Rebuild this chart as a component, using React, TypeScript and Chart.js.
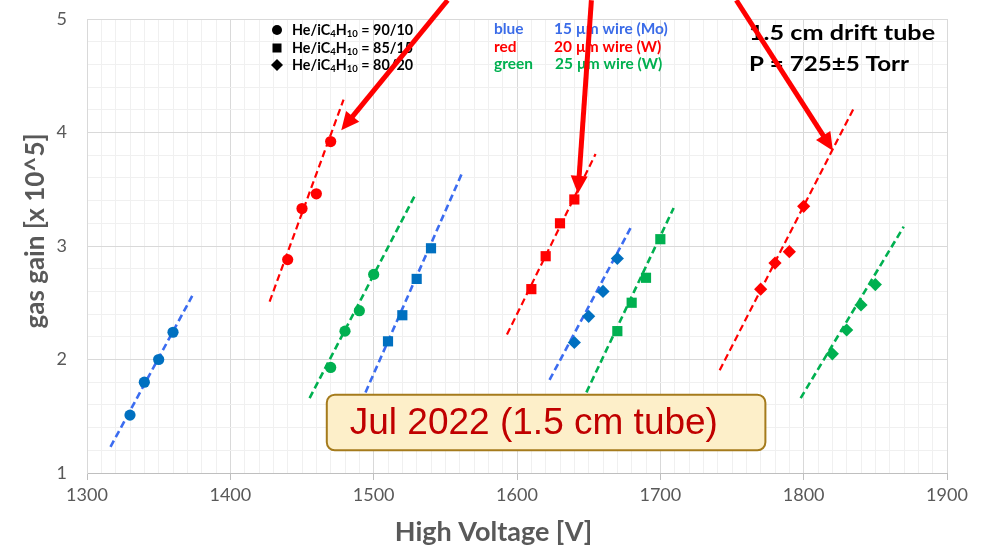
import React, { useEffect, useRef } from 'react';
import { Chart, registerables } from 'chart.js';

Chart.register(...registerables);

// ---------- data ----------
// He/iC4H10 = 90/10 (circles)
const hvCircleBlue = [1330, 1340, 1350, 1360];
const gainCircleBlue = [1.51, 1.8, 2.0, 2.24];
const hvCircleRed = [1440, 1450, 1460, 1470];
const gainCircleRed = [2.88, 3.33, 3.46, 3.92];
const hvCircleGreen = [1470, 1480, 1490, 1500];
const gainCircleGreen = [1.93, 2.25, 2.43, 2.75];
// He/iC4H10 = 85/15 (squares)
const hvSquareBlue = [1510, 1520, 1530, 1540];
const gainSquareBlue = [2.16, 2.39, 2.71, 2.98];
const hvSquareRed = [1610, 1620, 1630, 1640];
const gainSquareRed = [2.62, 2.91, 3.2, 3.41];
const hvSquareGreen = [1670, 1680, 1690, 1700];
const gainSquareGreen = [2.25, 2.5, 2.72, 3.06];
// He/iC4H10 = 80/20 (diamonds)
const hvDiamondBlue = [1640, 1650, 1660, 1670];
const gainDiamondBlue = [2.15, 2.38, 2.6, 2.89];
const hvDiamondRed = [1770, 1780, 1790, 1800];
const gainDiamondRed = [2.62, 2.85, 2.95, 3.35];
const hvDiamondGreen = [1820, 1830, 1840, 1850];
const gainDiamondGreen = [2.05, 2.26, 2.48, 2.66];

// linear trend lines: [hvStart, gainStart, hvEnd, gainEnd]
const trendCircleBlue = [1316.4, 1.23, 1373.4, 2.56];
const trendCircleRed = [1427.4, 2.51, 1479.0, 4.29];
const trendCircleGreen = [1455.3, 1.66, 1529.2, 3.455];
const trendSquareBlue = [1494.3, 1.71, 1561.6, 3.64];
const trendSquareRed = [1593.0, 2.22, 1654.8, 3.81];
const trendSquareGreen = [1648.4, 1.71, 1709.3, 3.335];
const trendDiamondBlue = [1622.7, 1.82, 1679.3, 3.16];
const trendDiamondRed = [1741.4, 1.905, 1835.6, 4.23];
const trendDiamondGreen = [1797.9, 1.66, 1869.8, 3.17];

// axes
const xMin = 1300;
const xMax = 1900;
const xMajorTicks = [1300, 1400, 1500, 1600, 1700, 1800, 1900];
const yMin = 1;
const yMax = 5;
const yMajorTicks = [1, 2, 3, 4, 5];

// annotations (data coordinates)
const arrowStartHv = [1551.6, 1651.9, 1753.0];
const arrowStartGain = [5.165, 5.165, 5.165];
const arrowTipHv = [1477.4, 1642.5, 1820.4];
const arrowTipGain = [4.02, 3.46, 3.84];
const noteBoxHv = [1467.3, 1773.3];
const noteBoxGain = [1.69, 1.2];

const mixLabels = ['90/10', '85/15', '80/20'];
const colorWords = ['blue', 'red', 'green'];
const wireLabels = ['15 \u00b5m wire (Mo)', '20 \u00b5m wire (W)', '25 \u00b5m wire (W)'];
const infoLines = ['1.5 cm drift tube', 'P = 725\u00b15 Torr'];
const noteText = 'Jul 2022 (1.5 cm tube)';

// ---------- styles ----------
const FONT = "Lato, 'Liberation Sans', sans-serif";
const MARK = { blue: '#0070c0', red: '#ff0000', green: '#00b050' };
const LINE = { blue: '#3b6cf0', red: '#ff0000', green: '#00b050' };
const WORD = { blue: '#3b6ce8', red: '#ff0000', green: '#00b050' };

const isMajor = (v: number, list: number[]) => list.some((t) => Math.abs(t - v) < 1e-6);

function pts(xs: number[], ys: number[]) {
  return xs.map((x, i) => ({ x, y: ys[i] }));
}

function pointSet(xs: number[], ys: number[], color: string, style: string) {
  const radius = style === 'circle' ? 5.6 : style === 'rect' ? 7.2 : 6.6;
  return {
    data: pts(xs, ys),
    showLine: false,
    pointStyle: style,
    pointRadius: radius,
    pointHoverRadius: radius,
    backgroundColor: color,
    borderColor: color,
    borderWidth: 0,
    order: 1,
  };
}

function trendSet(t: number[], color: string, width: number) {
  return {
    data: [
      { x: t[0], y: t[1] },
      { x: t[2], y: t[3] },
    ],
    showLine: true,
    borderColor: color,
    borderWidth: width,
    borderDash: [7, 4],
    pointRadius: 0,
    pointHoverRadius: 0,
    fill: false,
    order: 2,
  };
}

function fillStretched(ctx: CanvasRenderingContext2D, text: string, x: number, y: number, sx: number) {
  ctx.save();
  ctx.translate(x, y);
  ctx.scale(sx, 1);
  ctx.fillText(text, 0, 0);
  ctx.restore();
}

function drawChem(ctx: CanvasRenderingContext2D, x: number, y: number, ratio: string, targetW: number) {
  const parts: [string, boolean][] = [
    ['He/iC', false],
    ['4', true],
    ['H', false],
    ['10', true],
    [' = ' + ratio, false],
  ];
  const fMain = `bold 15px ${FONT}`;
  const fSub = `bold 10px ${FONT}`;
  let total = 0;
  for (const [txt, sub] of parts) {
    ctx.font = sub ? fSub : fMain;
    total += ctx.measureText(txt).width;
  }
  const sx = targetW / total;
  ctx.save();
  ctx.translate(x, y);
  ctx.scale(sx, 1);
  let cx = 0;
  for (const [txt, sub] of parts) {
    ctx.font = sub ? fSub : fMain;
    ctx.fillText(txt, cx, sub ? 4 : 0);
    cx += ctx.measureText(txt).width;
  }
  ctx.restore();
}

const annotationPlugin = {
  id: 'annotations',
  afterDraw(chart: any) {
    const { ctx } = chart;
    const xs = chart.scales.x;
    const ys = chart.scales.y;
    ctx.save();
    ctx.textBaseline = 'middle';
    ctx.textAlign = 'left';

    // gas mixture legend
    const rowY = [30, 48, 65];
    const symX = 277;
    ctx.fillStyle = '#000000';
    ctx.beginPath();
    ctx.arc(symX, rowY[0], 5, 0, Math.PI * 2);
    ctx.fill();
    ctx.fillRect(symX - 4.5, rowY[1] - 4.5, 9, 9);
    ctx.beginPath();
    ctx.moveTo(symX, rowY[2] - 6);
    ctx.lineTo(symX + 6, rowY[2]);
    ctx.lineTo(symX, rowY[2] + 6);
    ctx.lineTo(symX - 6, rowY[2]);
    ctx.closePath();
    ctx.fill();
    mixLabels.forEach((m, i) => drawChem(ctx, 292, rowY[i], m, 121));

    // wire legend
    ctx.font = `bold 15px ${FONT}`;
    const wordColors = [WORD.blue, WORD.red, WORD.green];
    colorWords.forEach((w, i) => {
      ctx.fillStyle = wordColors[i];
      fillStretched(ctx, w, 494, rowY[i] - 1, 1.03);
      fillStretched(ctx, wireLabels[i], i === 2 ? 555 : 554, rowY[i] - 1, 1.03);
    });

    // info text
    ctx.fillStyle = '#000000';
    ctx.font = `bold 21px ${FONT}`;
    fillStretched(ctx, infoLines[0], 749, 33, 1.2);
    fillStretched(ctx, infoLines[1], 749, 64, 1.15);

    // note box
    const bx0 = xs.getPixelForValue(noteBoxHv[0]);
    const bx1 = xs.getPixelForValue(noteBoxHv[1]);
    const by0 = ys.getPixelForValue(noteBoxGain[0]);
    const by1 = ys.getPixelForValue(noteBoxGain[1]);
    const r = 8;
    ctx.beginPath();
    ctx.moveTo(bx0 + r, by0);
    ctx.arcTo(bx1, by0, bx1, by1, r);
    ctx.arcTo(bx1, by1, bx0, by1, r);
    ctx.arcTo(bx0, by1, bx0, by0, r);
    ctx.arcTo(bx0, by0, bx1, by0, r);
    ctx.closePath();
    ctx.fillStyle = '#fdefc9';
    ctx.fill();
    ctx.lineWidth = 2;
    ctx.strokeStyle = '#a57b1c';
    ctx.stroke();
    ctx.fillStyle = '#c00000';
    ctx.font = `37px 'Liberation Sans', Arial, sans-serif`;
    ctx.fillText(noteText, bx0 + 23, (by0 + by1) / 2 + 1);

    // arrows
    ctx.strokeStyle = '#ff0000';
    ctx.fillStyle = '#ff0000';
    ctx.lineWidth = 5;
    ctx.lineCap = 'butt';
    for (let i = 0; i < arrowTipHv.length; i++) {
      const sx = xs.getPixelForValue(arrowStartHv[i]);
      const sy = ys.getPixelForValue(arrowStartGain[i]);
      const tx = xs.getPixelForValue(arrowTipHv[i]);
      const ty = ys.getPixelForValue(arrowTipGain[i]);
      const ang = Math.atan2(ty - sy, tx - sx);
      const headLen = 18;
      const headHalf = 8.5;
      const hx = tx - Math.cos(ang) * headLen;
      const hy = ty - Math.sin(ang) * headLen;
      ctx.beginPath();
      ctx.moveTo(sx, sy);
      ctx.lineTo(hx + Math.cos(ang) * 2, hy + Math.sin(ang) * 2);
      ctx.stroke();
      ctx.beginPath();
      ctx.moveTo(tx, ty);
      ctx.lineTo(hx + Math.cos(ang + Math.PI / 2) * headHalf, hy + Math.sin(ang + Math.PI / 2) * headHalf);
      ctx.lineTo(hx - Math.cos(ang + Math.PI / 2) * headHalf, hy - Math.sin(ang + Math.PI / 2) * headHalf);
      ctx.closePath();
      ctx.fill();
    }
    ctx.restore();
  },
};

export default function App() {
  const ref = useRef<HTMLCanvasElement | null>(null);

  useEffect(() => {
    if (!ref.current) return;
    const datasets: any[] = [
      pointSet(hvCircleBlue, gainCircleBlue, MARK.blue, 'circle'),
      pointSet(hvCircleRed, gainCircleRed, MARK.red, 'circle'),
      pointSet(hvCircleGreen, gainCircleGreen, MARK.green, 'circle'),
      pointSet(hvSquareBlue, gainSquareBlue, MARK.blue, 'rect'),
      pointSet(hvSquareRed, gainSquareRed, MARK.red, 'rect'),
      pointSet(hvSquareGreen, gainSquareGreen, MARK.green, 'rect'),
      pointSet(hvDiamondBlue, gainDiamondBlue, MARK.blue, 'rectRot'),
      pointSet(hvDiamondRed, gainDiamondRed, MARK.red, 'rectRot'),
      pointSet(hvDiamondGreen, gainDiamondGreen, MARK.green, 'rectRot'),
      trendSet(trendCircleBlue, LINE.blue, 2.6),
      trendSet(trendCircleRed, LINE.red, 2.2),
      trendSet(trendCircleGreen, LINE.green, 2.6),
      trendSet(trendSquareBlue, LINE.blue, 2.6),
      trendSet(trendSquareRed, LINE.red, 2.2),
      trendSet(trendSquareGreen, LINE.green, 2.6),
      trendSet(trendDiamondBlue, LINE.blue, 2.6),
      trendSet(trendDiamondRed, LINE.red, 2.2),
      trendSet(trendDiamondGreen, LINE.green, 2.6),
    ];

    const chart = new Chart(ref.current, {
      type: 'scatter',
      data: { datasets },
      options: {
        responsive: false,
        animation: false,
        layout: { padding: { top: 19, right: 52, bottom: 0, left: 0 } },
        plugins: {
          legend: { display: false },
          tooltip: { enabled: false },
        },
        scales: {
          x: {
            type: 'linear',
            min: xMin,
            max: xMax,
            afterFit: (s: any) => {
              s.height = 78;
            },
            ticks: {
              stepSize: 10,
              autoSkip: false,
              maxRotation: 0,
              padding: 4,
              color: '#595959',
              font: { family: FONT, size: 18 },
              callback: (v: any) => (isMajor(Number(v), xMajorTicks) ? String(Math.round(Number(v))) : ''),
            },
            grid: {
              tickLength: 7,
              color: (c: any) => (isMajor(c.tick?.value, xMajorTicks) ? '#d9d9d9' : '#f0f0f0'),
              tickColor: (c: any) => (isMajor(c.tick?.value, xMajorTicks) ? '#bfbfbf' : 'rgba(0,0,0,0)'),
            },
            border: { color: '#bfbfbf' },
            title: {
              display: true,
              text: 'High Voltage [V]' + '\u2007\u2007\u2007',
              color: '#595959',
              font: { family: FONT, size: 27, weight: 'bold' },
              padding: { top: 0, bottom: 3 },
            },
          },
          y: {
            type: 'linear',
            min: yMin,
            max: yMax,
            afterFit: (s: any) => {
              s.width = 87;
              s.paddingTop = 0;
              s.paddingBottom = 0;
            },
            ticks: {
              stepSize: 0.2,
              autoSkip: false,
              padding: 20,
              color: '#595959',
              font: { family: FONT, size: 18 },
              callback: (v: any) => (isMajor(Number(v), yMajorTicks) ? String(Math.round(Number(v))) : ''),
            },
            grid: {
              drawTicks: false,
              color: (c: any) => (isMajor(c.tick?.value, yMajorTicks) ? '#d9d9d9' : '#f0f0f0'),
            },
            border: { color: '#d9d9d9' },
            title: {
              display: true,
              text: '\u2007\u2007' + 'gas gain [x 10^5]',
              color: '#595959',
              font: { family: FONT, size: 26, weight: 'bold' },
              padding: { top: 20, bottom: 0 },
            },
          },
        },
      },
      plugins: [annotationPlugin],
    });
    return () => chart.destroy();
  }, []);

  return (
    <div style={{ position: 'absolute', left: 0, top: 0, width: 999, height: 551, background: '#ffffff' }}>
      <canvas ref={ref} width={999} height={551} style={{ display: 'block' }} />
    </div>
  );
}
